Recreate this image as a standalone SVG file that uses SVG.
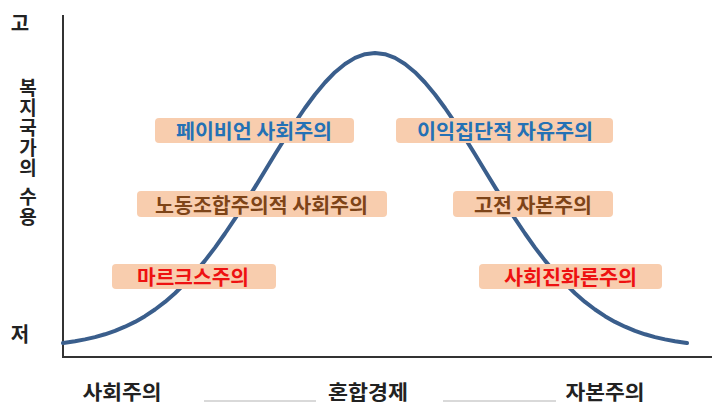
<svg xmlns="http://www.w3.org/2000/svg" width="712" height="407" viewBox="0 0 712 407">
<style>
.t{font-family:"Noto Sans CJK KR","Noto Sans",sans-serif;font-weight:bold;}
.box{fill:#F8CDAE;}
.lbl{font-size:20px;text-anchor:middle;dominant-baseline:central;}
.blue{fill:#2471B5;}
.brown{fill:#7E4418;}
.red{fill:#EE1111;}
.ax{font-size:20px;fill:#222;text-anchor:middle;dominant-baseline:central;}
.yl{font-size:19px;fill:#222;writing-mode:vertical-rl;text-orientation:upright;letter-spacing:1px;}
</style>
<rect width="712" height="407" fill="#fff"/>
<g id="axes">
<line x1="63" y1="15" x2="63" y2="357" stroke="#333" stroke-width="2"/>
<line x1="62" y1="357" x2="712" y2="357" stroke="#333" stroke-width="2"/>
</g>
<g id="curve">
<path d="M63,343.1 L65,342.8 L75,341.3 L85,339.4 L95,337.1 L105,334.3 L115,330.9 L125,326.7 L135,321.9 L145,316.2 L155,309.5 L165,301.9 L175,293.2 L185,283.4 L195,272.5 L205,260.6 L215,247.6 L225,233.5 L235,218.7 L245,203.1 L255,187.1 L265,170.7 L275,154.3 L285,138.2 L295,122.7 L305,108 L315,94.5 L325,82.5 L335,72.2 L345,64 L355,57.9 L365,54.2 L375,53 L385,54.2 L395,57.9 L405,64 L415,72.2 L425,82.5 L435,94.5 L445,108 L455,122.7 L465,138.2 L475,154.3 L485,170.7 L495,187.1 L505,203.1 L515,218.7 L525,233.5 L535,247.6 L545,260.6 L555,272.5 L565,283.4 L575,293.2 L585,301.9 L595,309.5 L605,316.2 L615,321.9 L625,326.7 L635,330.9 L645,334.3 L655,337.1 L665,339.4 L675,341.3 L685,342.8 L687,343.1" fill="none" stroke="#3A5E8C" stroke-width="4" stroke-linejoin="round" stroke-linecap="round"/>
</g>
<g id="yaxis-labels" class="t">
<text class="ax" x="20" y="22">고</text>
<text class="ax" x="20" y="333">저</text>
<text class="yl" x="28" y="78">복지국가의</text>
<text class="yl" x="28" y="187">수용</text>
</g>
<g id="node-fabian" class="t">
<rect class="box" x="155" y="118" width="199" height="25" rx="4"/>
<text class="lbl blue" x="254" y="130.5" textLength="156" lengthAdjust="spacingAndGlyphs">페이비언 사회주의</text>
</g>
<g id="node-interest" class="t">
<rect class="box" x="396" y="118" width="217" height="25" rx="4"/>
<text class="lbl blue" x="505" y="130.5" textLength="176" lengthAdjust="spacingAndGlyphs">이익집단적 자유주의</text>
</g>
<g id="node-union" class="t">
<rect class="box" x="137" y="191" width="250" height="26" rx="4"/>
<text class="lbl brown" x="261.5" y="204" textLength="213" lengthAdjust="spacingAndGlyphs">노동조합주의적 사회주의</text>
</g>
<g id="node-classic" class="t">
<rect class="box" x="453" y="191" width="160" height="26" rx="4"/>
<text class="lbl brown" x="533" y="204" textLength="118" lengthAdjust="spacingAndGlyphs">고전 자본주의</text>
</g>
<g id="node-marx" class="t">
<rect class="box" x="112" y="264" width="164" height="25" rx="4"/>
<text class="lbl red" x="193" y="276.5" textLength="112" lengthAdjust="spacingAndGlyphs">마르크스주의</text>
</g>
<g id="node-darwin" class="t">
<rect class="box" x="479" y="264" width="183" height="25" rx="4"/>
<text class="lbl red" x="570.5" y="276.5" textLength="133" lengthAdjust="spacingAndGlyphs">사회진화론주의</text>
</g>
<g id="xaxis-labels" class="t">
<line x1="204" y1="401" x2="316" y2="401" stroke="#ccc" stroke-width="1.5"/>
<line x1="443" y1="401" x2="556" y2="401" stroke="#ccc" stroke-width="1.5"/>
<text class="ax" x="122" y="391" textLength="79" lengthAdjust="spacingAndGlyphs">사회주의</text>
<text class="ax" x="368" y="391" textLength="80" lengthAdjust="spacingAndGlyphs">혼합경제</text>
<text class="ax" x="605" y="391" textLength="79" lengthAdjust="spacingAndGlyphs">자본주의</text>
</g>
</svg>
